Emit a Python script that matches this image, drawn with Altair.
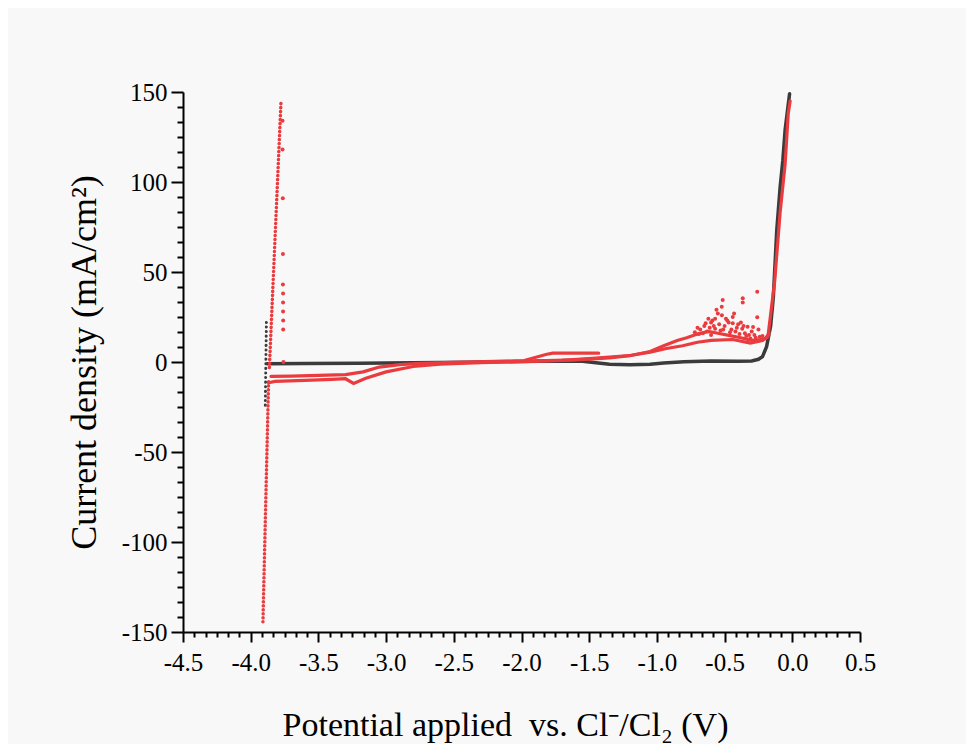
import altair as alt
import pandas as pd

# ---------------- data ----------------
# black curve: main trace (V, mA/cm2)
black_x = [-3.878, -3.6, -3.2, -2.8, -2.4, -2.0, -1.75, -1.55, -1.45, -1.35, -1.2, -1.05, -0.95,
           -0.8, -0.6, -0.4, -0.3, -0.25, -0.22, -0.19, -0.16, -0.14, -0.115, -0.09, -0.07,
           -0.053, -0.035, -0.02]
black_y = [-1.0, -0.9, -0.7, -0.4, -0.1, 0.3, 0.6, 0.4, -0.4, -1.2, -1.5, -1.2, -0.6,
           0.2, 0.5, 0.4, 0.6, 1.5, 3.0, 8.5, 20.0, 36.0, 73.0, 97.0, 112.0,
           129.0, 140.0, 149.0]
# black scattered column at the cathodic limit
black_col_x = [-3.892, -3.884]
black_col_y = [-24.0, 22.0]

# red curve segments
red_down_x = [-3.868, -3.91]
red_down_y = [-11.0, -145.5]
red_up_x = [-3.862, -3.776]
red_up_y = [-3.0, 145.0]

red_low_x = [-3.868, -3.82, -3.6, -3.4, -3.3, -3.24, -3.15, -3.0, -2.8, -2.6, -2.3, -2.0, -1.7,
             -1.45, -1.2, -1.05, -0.93, -0.81, -0.7, -0.6, -0.44, -0.31, -0.22, -0.18, -0.13,
             -0.09, -0.053, -0.03, -0.016]
red_low_y = [-11.5, -10.8, -10.2, -9.7, -9.3, -11.9, -9.0, -5.5, -2.5, -1.2, -0.3, 0.2, 0.9,
             2.2, 3.6, 5.5, 7.5, 9.0, 11.0, 12.0, 12.5, 10.5, 12.0, 14.0, 45.0,
             83.0, 110.0, 138.0, 145.0]

red_upb_x = [-3.85, -3.7, -3.5, -3.3, -3.17, -3.05, -2.9, -2.75, -2.5, -2.2, -1.98, -1.9,
             -1.82, -1.77, -1.6, -1.43]
red_upb_y = [-8.0, -7.8, -7.4, -7.0, -5.5, -2.8, -1.5, -0.8, -0.2, 0.3, 0.8, 2.5,
             4.2, 4.9, 4.9, 4.9]

red_hump_x = [-1.9, -1.6, -1.35, -1.2, -1.05, -0.95, -0.85, -0.78, -0.7, -0.62, -0.55, -0.45,
              -0.38, -0.3, -0.24, -0.2, -0.17]
red_hump_y = [0.6, 1.2, 2.3, 3.5, 5.8, 9.0, 12.0, 13.5, 15.5, 17.0, 16.0, 14.5,
              13.5, 12.0, 12.5, 13.0, 16.0]

# red isolated points (hump cloud and the column beside the cathodic branch)
red_pts_x = [-0.514, -0.366, -0.259, -0.259, -0.521, -0.366, -0.33, -0.48, -0.44, -0.55, -0.6,
             -0.62, -0.58, -0.5, -0.45, -0.4, -0.35, -0.3, -0.65, -0.68, -0.56, -0.52, -0.47,
             -0.42, -0.7, -0.63, -0.38, -0.28, -0.24, -0.57, -0.43, -0.66, -0.61, -0.59, -0.54,
             -0.51, -0.49, -0.46, -0.41, -0.39, -0.36, -0.34, -0.32, -0.27, -0.25, -0.22, -0.64,
             -0.6, -0.53, -0.44, -0.37, -0.31, -0.29, -0.72, -0.69, -0.57,
             -3.765, -3.765, -3.763, -3.762, -3.762, -3.761, -3.761, -3.761, -3.76, -3.76, -3.758]
red_pts_y = [34.4, 35.4, 39.0, 24.8, 30.7, 33.0, 19.6, 23.0, 25.0, 27.0, 22.0,
             24.0, 20.0, 20.0, 18.0, 21.0, 16.0, 17.0, 20.0, 18.0, 29.0, 26.0, 22.0,
             17.0, 19.0, 17.0, 22.0, 15.0, 14.0, 24.0, 27.0, 16.0, 19.0, 23.0, 21.0,
             18.0, 24.0, 16.5, 19.0, 15.5, 20.0, 14.5, 15.0, 13.5, 18.0, 14.5, 21.5,
             15.0, 17.5, 21.5, 18.5, 13.0, 19.5, 16.5, 15.5, 18.5,
             134.0, 118.0, 91.0, 60.0, 43.0, 38.0, 33.0, 28.0, 23.0, 18.0, 0.0]

x_major = [-4.5, -4.0, -3.5, -3.0, -2.5, -2.0, -1.5, -1.0, -0.5, 0.0, 0.5]
y_major = [-150, -100, -50, 0, 50, 100, 150]

# ---------------- frames ----------------
def seg(xs, ys, name):
    return pd.DataFrame({"x": xs, "y": ys, "seg": name, "o": range(len(xs))})

black_df = seg(black_x, black_y, "black")
black_col_df = seg(black_col_x, black_col_y, "bcol")
red_solid_df = pd.concat([seg(red_low_x, red_low_y, "low"),
                          seg(red_upb_x, red_upb_y, "upb"),
                          seg(red_hump_x, red_hump_y, "hump")])
red_dot_df = pd.concat([seg(red_down_x, red_down_y, "down"),
                        seg(red_up_x, red_up_y, "up")])
red_pts_df = pd.DataFrame({"x": red_pts_x, "y": red_pts_y})

# minor ticks: 5 between majors
x_minor = [round(a + k * 0.5 / 6, 5) for a in x_major[:-1] for k in range(1, 6)]
y_minor = [round(a + k * 50 / 6, 4) for a in y_major[:-1] for k in range(1, 6)]

FONT = "Liberation Serif"
BLACK = "#3b3b3b"
RED = "#ea3b3f"

xs = alt.Scale(domain=[-4.5, 0.5], nice=False, zero=False)
ys = alt.Scale(domain=[-150, 150], nice=False, zero=False)

x_enc = alt.X("x:Q", scale=xs,
              axis=alt.Axis(values=x_major, orient="bottom",
                            title="Potential applied\u00a0 vs. Cl\u207b/Cl\u2082 (V)",
                            labelExpr="(datum.value < -0.001 ? '-' : '') + format(abs(datum.value), '.1f')",
                            tickSize=10, labelPadding=8, labelFlush=False, labelOverlap=False,
                            titleX=322, titleY=103, titleBaseline="alphabetic",
                            titleFontSize=34))
y_enc = alt.Y("y:Q", scale=ys,
              axis=alt.Axis(values=y_major, orient="left",
                            title="Current density (mA/cm\u00b2)",
                            labelExpr="(datum.value < -0.001 ? '-' : '') + format(abs(datum.value), 'd')",
                            tickSize=12, labelPadding=4, labelFlush=False, labelOverlap=False,
                            titleX=-88, titleBaseline="alphabetic",
                            titleFontSize=36))

base_black = alt.Chart(black_df).mark_line(color=BLACK, strokeWidth=3.5, strokeCap="round").encode(
    x=x_enc, y=y_enc, order="o:Q")
black_col = alt.Chart(black_col_df).mark_line(color=BLACK, strokeWidth=3, strokeCap="round",
                                              strokeDash=[0.1, 4.5]).encode(x=x_enc, y=y_enc, order="o:Q")
red_solid = alt.Chart(red_solid_df).mark_line(color=RED, strokeWidth=3.2, strokeCap="round").encode(
    x=x_enc, y=y_enc, detail="seg:N", order="o:Q")
red_dots = alt.Chart(red_dot_df).mark_line(color=RED, strokeWidth=3.5, strokeCap="round",
                                           strokeDash=[0.1, 3.9]).encode(
    x=x_enc, y=y_enc, detail="seg:N", order="o:Q")
red_pts = alt.Chart(red_pts_df).mark_circle(color=RED, size=16, opacity=1).encode(x=x_enc, y=y_enc)

main = alt.layer(base_black, black_col, red_solid, red_dots, red_pts)

minor = alt.Chart(red_pts_df).mark_point(opacity=0).encode(
    x=alt.X("x:Q", scale=xs, axis=alt.Axis(values=x_minor, orient="bottom", labels=False,
                                           tickSize=5, domain=False, title=None)),
    y=alt.Y("y:Q", scale=ys, axis=alt.Axis(values=y_minor, orient="left", labels=False,
                                           tickSize=6, domain=False, title=None)),
)

chart = alt.layer(main, minor).resolve_axis(x="independent", y="independent").properties(
    width=677, height=540,
    autosize=alt.AutoSizeParams(type="none"),
    padding={"left": 175, "top": 84, "right": 106, "bottom": 112},
    background="#f8f8f8",
).configure_view(stroke=None).configure_axis(
    domainColor="black", domainWidth=2, tickColor="black", tickWidth=2,
    labelFont=FONT, labelFontSize=25, labelColor="black",
    titleFont=FONT, titleColor="black", titleFontWeight="normal",
    grid=False,
)

chart.save("out.html", embed_options={"renderer": "svg", "actions": False})
